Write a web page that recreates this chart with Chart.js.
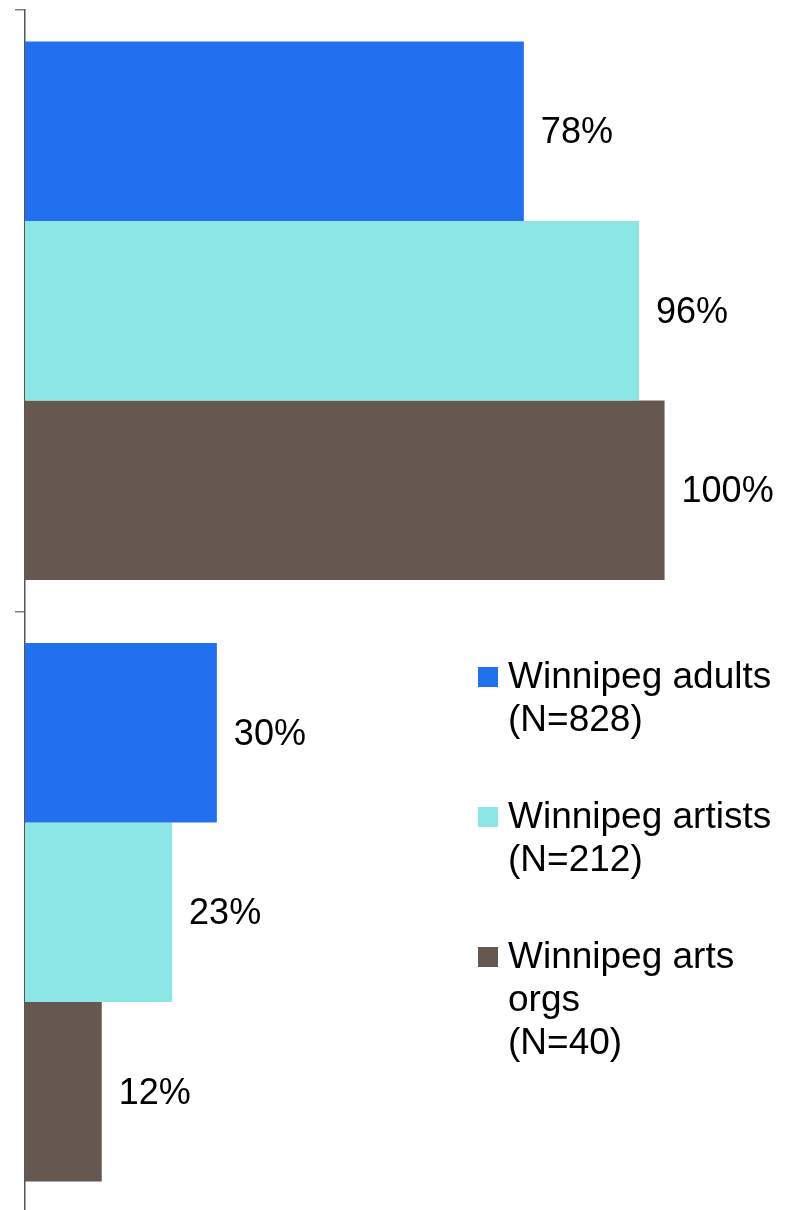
<!DOCTYPE html>
<html><head><meta charset="UTF-8">
<title>Winnipeg chart</title>
<script src="https://cdn.jsdelivr.net/npm/chart.js"></script>
<style>
  html, body { margin: 0; background: #fff; overflow: hidden; font-family: 'Liberation Sans', Arial, sans-serif; }
  .wrap { position: relative; width: 788px; height: 1210px; overflow: hidden; }
  .legend { position: absolute; left: 478px; top: 654px; color: #000; font-size: 37px; line-height: 43px; }
  .legend .item { position: relative; padding-left: 30px; height: 140px; }
  .legend .box { position: absolute; left: 0; top: 13px; width: 20px; height: 20px; }
</style></head><body>
<div class="wrap">
  <canvas id="chart" width="788" height="1213"></canvas>
  <div class="legend" id="legend"></div>
</div>
<script>
const categories = ['', ''];
const seriesNames = ['Winnipeg adults', 'Winnipeg artists', 'Winnipeg arts'];
const seriesNotes = [['(N=828)'], ['(N=212)'], ['orgs', '(N=40)']];
const adults = [78, 30];
const artists = [96, 23];
const artsOrgs = [100, 12];
const colors = ['#2370ee', '#8de6e6', '#645850'];

// legend as html
const legendEl = document.getElementById('legend');
seriesNames.forEach((name, i) => {
  const lines = [name].concat(seriesNotes[i]).join('<br>');
  legendEl.innerHTML += `<div class="item"><span class="box" style="background:${colors[i]}"></span>${lines}</div>`;
});

// value labels next to the bar ends
const valueLabels = {
  id: 'valueLabels',
  afterDatasetsDraw(chart) {
    const ctx = chart.ctx;
    ctx.save();
    ctx.font = '36px "Liberation Sans", Arial, sans-serif';
    ctx.fillStyle = '#000';
    ctx.textAlign = 'left';
    ctx.textBaseline = 'middle';
    chart.data.datasets.forEach((ds, i) => {
      chart.getDatasetMeta(i).data.forEach((bar, j) => {
        ctx.fillText(ds.data[j] + '%', bar.x + 17, bar.y + 2);
      });
    });
    ctx.restore();
  }
};

new Chart(document.getElementById('chart'), {
  type: 'bar',
  data: {
    labels: categories,
    datasets: [
      { label: seriesNames[0], data: adults, backgroundColor: colors[0] },
      { label: seriesNames[1], data: artists, backgroundColor: colors[1] },
      { label: seriesNames[2], data: artsOrgs, backgroundColor: colors[2] }
    ]
  },
  options: {
    indexAxis: 'y',
    responsive: false,
    animation: false,
    layout: { padding: { left: 15, top: 10, right: 0, bottom: 0 } },
    datasets: { bar: { categoryPercentage: 0.895, barPercentage: 1 } },
    plugins: { legend: { display: false }, tooltip: { enabled: false } },
    scales: {
      x: { display: false, min: 0, max: 119.3 },
      y: {
        ticks: { display: false },
        grid: { drawOnChartArea: false, tickLength: 10, color: '#808080', lineWidth: 1.5 },
        border: { color: '#555555', width: 1.5 }
      }
    }
  },
  plugins: [valueLabels]
});
</script>
</body></html>
